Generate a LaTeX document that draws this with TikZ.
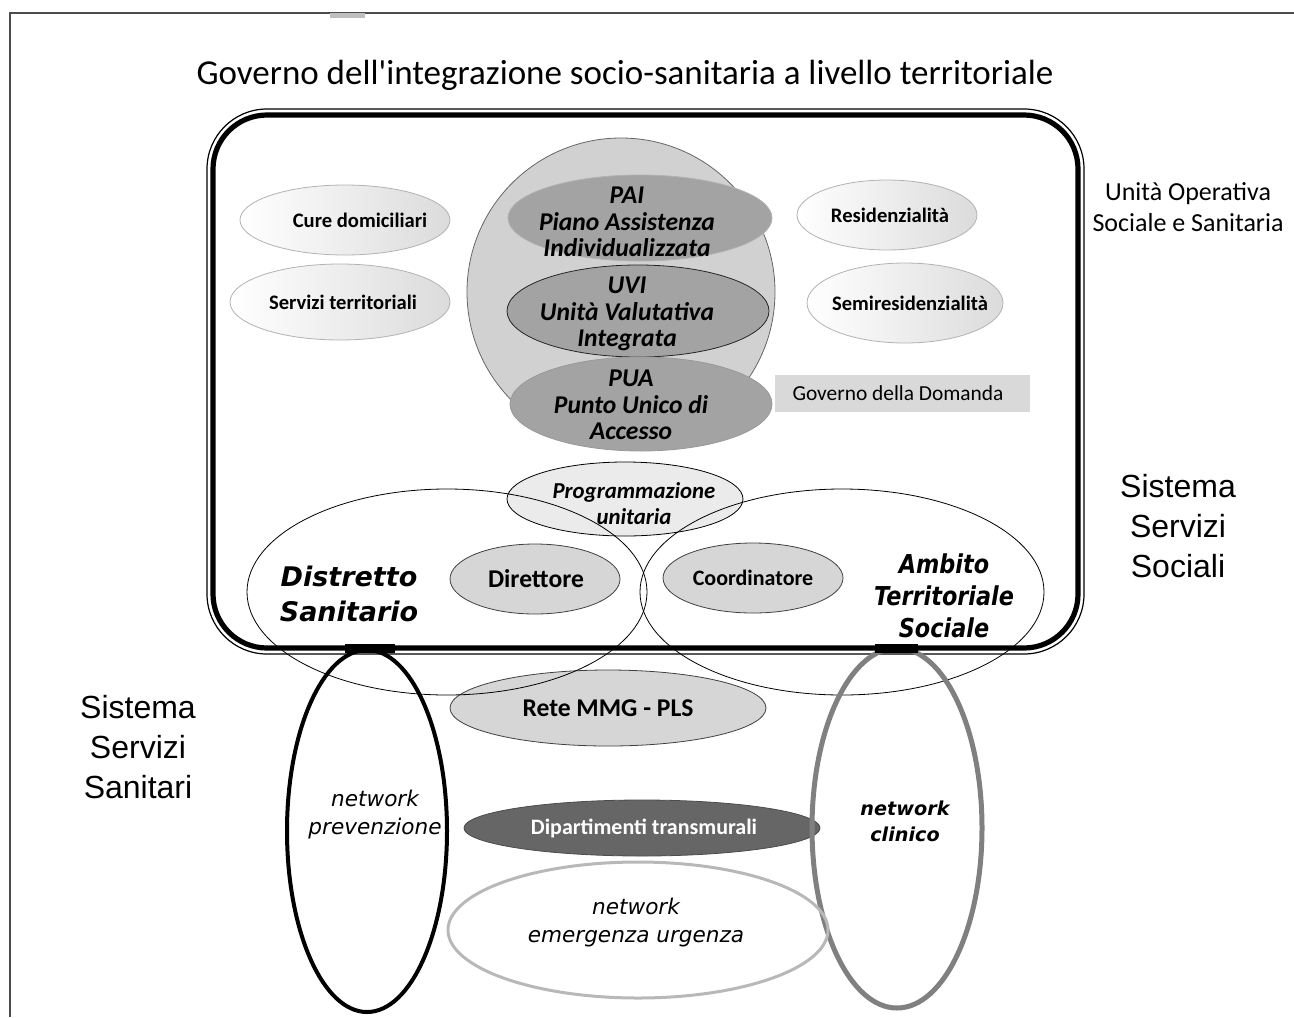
\documentclass[tikz,border=0pt]{standalone}
\usepackage{fontspec}
\setmainfont{Carlito}
\newfontfamily\verdfont{DejaVu Sans}
\newfontfamily\verdnarrow[FakeStretch=0.86]{DejaVu Sans}
\newfontfamily\arialfont{Liberation Sans}
\usetikzlibrary{shapes.geometric}

\begin{document}
\begin{tikzpicture}[x=0.5pt,y=-0.5pt,
  oval/.style={ellipse,inner sep=0pt},
  pale/.style={oval,draw=black!30,left color=white,right color=black!14},
  paletext/.style={font=\bfseries\fontsize{10.3}{12}\selectfont},
  coreoval/.style={oval,fill=black!36},
  coretext/.style={align=center,font=\bfseries\itshape\fontsize{12.8}{13.3}\selectfont},
  midoval/.style={oval,draw=black!75,fill=black!16},
  midtext/.style={font=\bfseries\fontsize{12.8}{14}\selectfont},
  bigoval/.style={oval,draw,thin},
  bigtext/.style={align=center,font=\verdfont\bfseries\itshape\fontsize{13.5}{17.5}\selectfont},
  nettext/.style={align=center,font=\verdfont\itshape\fontsize{10.8}{14}\selectfont},
  sidetext/.style={align=center,font=\arialfont\fontsize{16}{19.8}\selectfont}]
\useasboundingbox (0,0) rectangle (1294,1017);

% page frame
\draw[black!70,line width=0.8pt] (10,1017) -- (10,13) -- (1294,13);
\fill[black!25] (330,13) rectangle (365,18);

\node[font=\fontsize{17.5}{20}\selectfont] (titolo) at (625,75)
  {Governo dell\textquotesingle integrazione socio-sanitaria a livello territoriale};

% servizi ai lati
\node[pale,minimum width=105pt,minimum height=35pt] (cure) at (345,220) {};
\node[paletext] (cure-t) at (360,220) {Cure domiciliari};
\node[pale,minimum width=110pt,minimum height=38pt] (servizi) at (340,302) {};
\node[paletext] (servizi-t) at (343,302) {Servizi territoriali};
\node[pale,minimum width=90pt,minimum height=35pt] (resid) at (887,215) {};
\node[paletext] (resid-t) at (890,215) {Residenzialità};
\node[pale,minimum width=98pt,minimum height=40pt] (semires) at (905,303) {};
\node[paletext] (semires-t) at (910,303) {Semiresidenzialità};

\node[fill=black!15,minimum width=127.5pt,minimum height=18.5pt,inner sep=0pt] (domanda) at (902,393) {};
\node[font=\fontsize{10.7}{12}\selectfont] (domanda-t) at (898,393) {Governo della Domanda};

% sfera centrale
\node[circle,draw=black!60,fill=black!18,minimum size=154pt,inner sep=0pt] (sfera) at (621,292) {};
\node[coreoval,draw=black!30,minimum width=132pt,minimum height=43pt] (pai) at (640,218) {};
\node[coretext] (pai-t) at (627,222) {PAI\\Piano Assistenza\\Individualizzata};
\node[coreoval,draw=black!85,minimum width=131pt,minimum height=46pt] (uvi) at (638,311) {};
\node[coretext] (uvi-t) at (627,314) {UVI\\Unità Valutativa\\Integrata};
\node[coreoval,draw=black!40,minimum width=131pt,minimum height=47pt] (pua) at (641,404) {};
\node[coretext] (pua-t) at (631,405) {PUA\\Punto Unico di\\Accesso};

% distretto e ambito
\node[oval,draw,fill=black!8,minimum width=118pt,minimum height=37pt] (progr) at (625,499) {};
\node[coretext,font=\bfseries\itshape\fontsize{11.4}{13}\selectfont] (progr-t) at (634,504) {Programmazione\\unitaria};
\node[midoval,minimum width=85pt,minimum height=35pt] (direttore) at (535,579) {};
\node[midtext] (direttore-t) at (536,579) {Direttore};
\node[midoval,minimum width=90pt,minimum height=35pt] (coord) at (753,578) {};
\node[midtext,font=\bfseries\fontsize{11}{13}\selectfont] (coord-t) at (753,578) {Coordinatore};
\node[midoval,minimum width=158pt,minimum height=38pt] (rete) at (608,708) {};
\node[midtext] (rete-t) at (608,708) {Rete MMG - PLS};
\node[bigoval,minimum width=200pt,minimum height=103pt] (distretto) at (447,592) {};
\node[bigoval,minimum width=202pt,minimum height=103pt] (ambito) at (842,592) {};
\node[bigtext] (distretto-t) at (349,594) {Distretto\\Sanitario};
\node[bigtext,font=\verdnarrow\bfseries\itshape\fontsize{13}{16}\selectfont] (ambito-t) at (944,596) {Ambito\\Territoriale\\Sociale};

% unita operativa
\draw[line width=0.6pt,rounded corners=30pt] (207,109) rectangle (1084,654);
\draw[line width=2.6pt,rounded corners=27pt] (213,115) rectangle (1078,648);

% reti
\node[oval,draw=black!70,fill=black!60,minimum width=178pt,minimum height=28pt] (dip) at (642,828) {};
\node[white,font=\bfseries\fontsize{11}{13}\selectfont] (dip-t) at (644,828) {Dipartimenti transmurali};
\node[oval,draw,line width=2pt,minimum width=80pt,minimum height=181pt] (prev) at (367,831) {};
\node[nettext] (prev-t) at (375,815) {network\\prevenzione};
\node[oval,draw=black!50,line width=2.5pt,minimum width=85pt,minimum height=180pt] (clinico) at (897,828) {};
\node[nettext,font=\verdfont\bfseries\itshape\fontsize{9.6}{13}\selectfont] (clinico-t) at (905,821) {network\\clinico};
\node[oval,draw=black!28,line width=1.5pt,minimum width=190pt,minimum height=68pt] (emerg) at (638,930) {};
\node[nettext] (emerg-t) at (636,923) {network\\emergenza urgenza};
\fill (345,644) rectangle (395,653);
\fill (875,644) rectangle (918,653);

% etichette esterne
\node[align=center,font=\fontsize{13}{15.5}\selectfont] (uo) at (1188,207) {Unità Operativa\\Sociale e Sanitaria};
\node[sidetext] (sociali) at (1178,526) {Sistema\\Servizi\\Sociali};
\node[sidetext] (sanitari) at (138,747) {Sistema\\Servizi\\Sanitari};
\end{tikzpicture}
\end{document}
